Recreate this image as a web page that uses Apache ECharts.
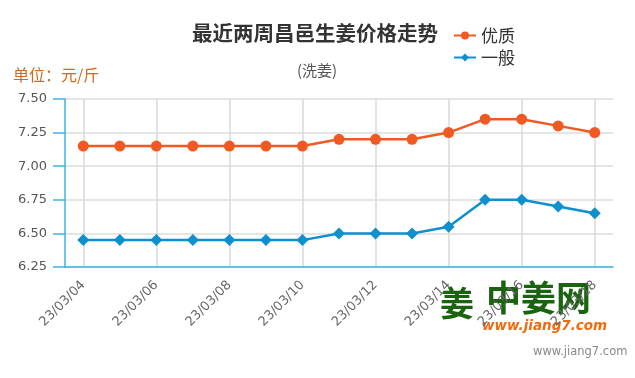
<!DOCTYPE html>
<html>
<head>
<meta charset="utf-8">
<script src="https://cdn.jsdelivr.net/npm/echarts@6/dist/echarts.min.js"></script>
<style>
  html, body { margin: 0; padding: 0; background: #fff; }
  #chart { width: 635px; height: 378px; }
</style>
</head>
<body>
<div id="chart"></div>
<script>
// 日期
const dates = ['23/03/04', '23/03/05', '23/03/06', '23/03/07', '23/03/08', '23/03/09', '23/03/10',
  '23/03/11', '23/03/12', '23/03/13', '23/03/14', '23/03/15', '23/03/16', '23/03/17', '23/03/18']
// 优质
const goodPrice = [7.15, 7.15, 7.15, 7.15, 7.15, 7.15, 7.15, 7.2, 7.2, 7.2, 7.25, 7.35, 7.35, 7.3, 7.25]
// 一般
const normalPrice = [6.45, 6.45, 6.45, 6.45, 6.45, 6.45, 6.45, 6.5, 6.5, 6.5, 6.55, 6.75, 6.75, 6.7, 6.65]

const orange = '#f05a22'
const blue = '#0e8fce'
const axisBlue = '#3cb3e4'

const chart = echarts.init(document.getElementById('chart'))
chart.setOption({
  backgroundColor: '#fff',
  animation: false,
  title: [{
    text: '最近两周昌邑生姜价格走势',
    left: 310,
    top: 18,
    textAlign: 'center',
    textStyle: { fontSize: 20.5, fontWeight: 'bold', color: '#333', fontFamily: 'Noto Sans CJK SC' }
  }, {
    text: '(洗姜)',
    left: 312,
    top: 58,
    textAlign: 'center',
    textStyle: { fontSize: 15, fontWeight: 'normal', color: '#555', fontFamily: 'Noto Sans CJK SC' }
  }, {
    text: '单位：元/斤',
    left: 8,
    top: 62,
    textStyle: { fontSize: 16, fontWeight: 'normal', color: '#d2691e', fontFamily: 'Noto Sans CJK SC' }
  }],
  legend: {
    orient: 'vertical',
    left: 448,
    top: 22,
    itemWidth: 22,
    itemHeight: 10,
    itemGap: 5,
    textStyle: { fontSize: 17, color: '#333', fontFamily: 'Noto Sans CJK SC' },
    data: ['优质', '一般']
  },
  grid: {
    left: 65,
    right: 22,
    top: 99,
    bottom: 111
  },
  xAxis: {
    type: 'category',
    data: dates,
    boundaryGap: true,
    axisLine: { lineStyle: { color: axisBlue, width: 1.5 } },
    axisTick: {
      alignWithLabel: true,
      interval: 1,
      length: 15,
      lineStyle: { color: axisBlue, width: 1.5 }
    },
    axisLabel: {
      interval: 1,
      rotate: 45,
      margin: 16,
      color: '#666',
      fontSize: 13,
      fontFamily: 'DejaVu Sans'
    },
    splitLine: {
      show: true,
      interval: 1,
      alignWithLabel: true,
      lineStyle: { color: '#d9d9d9', width: 1.5 }
    }
  },
  yAxis: {
    type: 'value',
    min: 6.25,
    max: 7.5,
    interval: 0.25,
    axisLine: { show: true, lineStyle: { color: axisBlue, width: 1.5 } },
    axisTick: { show: true, length: 12, lineStyle: { color: axisBlue, width: 1.5 } },
    axisLabel: {
      margin: 18,
      color: '#555',
      fontSize: 13,
      fontFamily: 'DejaVu Sans',
      formatter: v => v.toFixed(2)
    },
    splitLine: { lineStyle: { color: '#dcdcdc', width: 1.5 } }
  },
  series: [{
    name: '优质',
    type: 'line',
    data: goodPrice,
    symbol: 'circle',
    symbolSize: 11,
    itemStyle: { color: orange },
    lineStyle: { color: orange, width: 2.5 }
  }, {
    name: '一般',
    type: 'line',
    data: normalPrice,
    symbol: 'diamond',
    symbolSize: 12,
    itemStyle: { color: blue },
    lineStyle: { color: blue, width: 2.5 }
  }],
  graphic: [{
    type: 'text',
    left: 440,
    top: 286,
    style: { text: '姜', fill: '#1a640f', font: 'bold 34px "Noto Sans CJK SC"' }
  }, {
    type: 'text',
    left: 486,
    top: 280,
    style: { text: '中姜网', fill: '#1a640f', font: 'bold 35px "Noto Sans CJK SC"' }
  }, {
    type: 'text',
    left: 482,
    top: 319,
    style: { text: 'www.jiang7.com', fill: '#f26a10', font: 'italic bold 13.5px "DejaVu Sans"' }
  }, {
    type: 'text',
    left: 533,
    top: 346,
    style: { text: 'www.jiang7.com', fill: '#888', font: '11.5px "DejaVu Sans"' }
  }]
})
</script>
</body>
</html>
